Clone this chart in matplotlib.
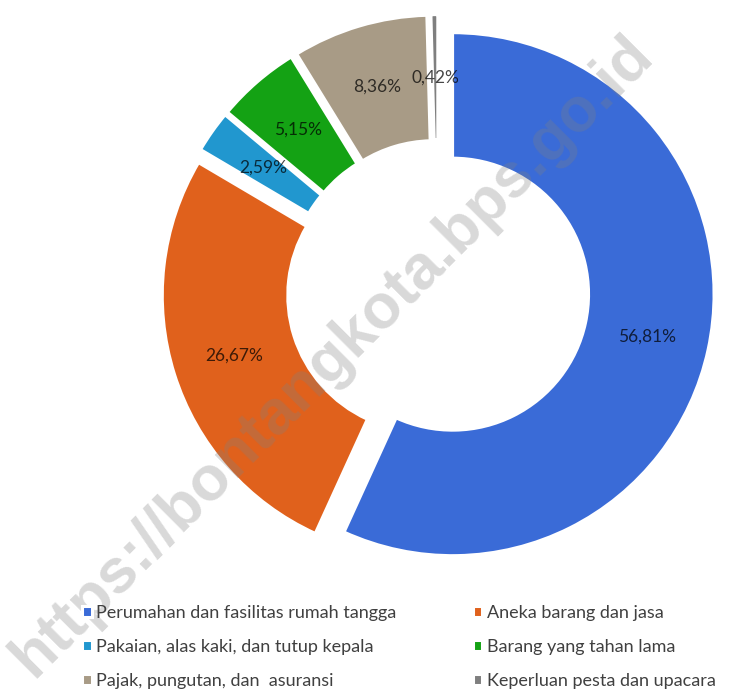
import matplotlib
matplotlib.use("Agg")
import matplotlib.pyplot as plt

categories = [
    "Perumahan dan fasilitas rumah tangga",
    "Aneka barang dan jasa",
    "Pakaian, alas kaki, dan tutup kepala",
    "Barang yang tahan lama",
    "Pajak, pungutan, dan  asuransi",
    "Keperluan pesta dan upacara",
]
shares = [56.81, 26.67, 2.59, 5.15, 8.36, 0.42]
colors = ["#3A6BD7", "#E0611C", "#2197CF", "#14A214", "#A89B86", "#7F7F7F"]

W, H, DPI = 734, 693, 100
cx, cy, R = 438, 291, 261.5  # donut centre and outer radius in pixels

plt.rcParams["font.family"] = ["Lato", "DejaVu Sans"]

fig = plt.figure(figsize=(W / DPI, H / DPI), dpi=DPI)
ax = fig.add_axes([0, 0, 1, 1])


def fmt_pct(p):
    return "{:.2f}%".format(p).replace(".", ",")


wedges, texts, autotexts = ax.pie(
    shares,
    colors=colors,
    startangle=90,
    counterclock=False,
    radius=1.0,
    explode=[0.057] * len(shares),
    autopct=fmt_pct,
    pctdistance=0.76,
    wedgeprops=dict(width=0.48, edgecolor="white", linewidth=2.2),
    textprops=dict(fontsize=12.5, color="black", alpha=0.72),
)

ax.set_xlim(-cx / R, (W - cx) / R)
ax.set_ylim(-(H - cy) / R, cy / R)
ax.set_aspect("equal")
ax.axis("off")

# legend laid out row by row: reorder for matplotlib's column-first filling
order = [0, 2, 4, 1, 3, 5]
fig.legend(
    [wedges[i] for i in order],
    [categories[i] for i in order],
    ncol=2,
    loc="upper left",
    bbox_to_anchor=(82 / W, 1 - 605 / H),
    borderaxespad=0,
    borderpad=0,
    frameon=False,
    fontsize=13,
    handlelength=0.55,
    handleheight=0.55,
    handletextpad=0.25,
    columnspacing=4.2,
    labelspacing=1.0,
    labelcolor="#404040",
)

fig.text(
    333 / W, 1 - 356 / H,
    "https://bontangkota.bps.go.id",
    fontsize=45, fontweight="bold", family="Liberation Sans",
    color="#808080", alpha=0.3,
    rotation=45, rotation_mode="anchor",
    ha="center", va="center",
)

fig.savefig("out.png", dpi=DPI)
